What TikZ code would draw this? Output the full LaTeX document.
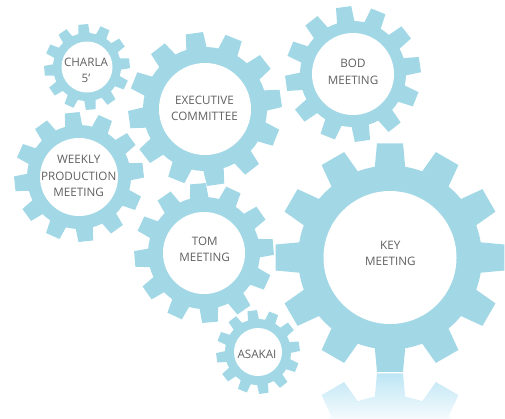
\documentclass[tikz,border=0pt]{standalone}
\usepackage{fontspec}
\setmainfont{Open Sans}
\definecolor{gearc}{RGB}{162,216,230}
\definecolor{txtc}{RGB}{96,96,96}
\definecolor{reflA}{RGB}{190,230,245}
\definecolor{reflB}{RGB}{244,250,253}
\newcommand{\mygear}[7]{% cx cy tip root inner offset name
  \fill[gearc,shift={(#1,#2)}] ({#6-9.5}:#4)
    \foreach \k in {0,...,11}{
      -- ({#6+30*\k-6.5}:#3) -- ({#6+30*\k+6.5}:#3) -- ({#6+30*\k+9.5}:#4)
      arc[start angle={#6+30*\k+9.5}, end angle={#6+30*\k+20.5}, radius=#4]
    } -- cycle;
  \coordinate (#7) at (#1,#2);
}
\newcommand{\myhole}[3]{\fill[white] (#1,#2) circle[radius=#3];}
\begin{document}
\begin{tikzpicture}[x=1bp,y=-1bp,
  lbl/.style={font=\fontsize{11.7}{16.7}\selectfont, text=txtc, align=center, inner sep=0pt}]
\useasboundingbox (0,0) rectangle (505,418);
% reflection
\begin{scope}
  \clip (0,373.5) rectangle (505,418);
  \begin{scope}
    \clip[shift={(390,487.5)}] ({-9.5}:92)
      \foreach \k in {0,...,11}{
        -- ({30*\k-6.5}:115) -- ({30*\k+6.5}:115) -- ({30*\k+9.5}:92)
        arc[start angle={30*\k+9.5}, end angle={30*\k+20.5}, radius=92]
      } -- cycle;
    \shade[top color=reflA, bottom color=reflB] (260,373.5) rectangle (520,418);
  \end{scope}
\end{scope}
% gears
\mygear{87}{67}{43}{34}{25.5}{-5}{gcharla}
\mygear{205}{109}{77}{62}{46}{-8}{gexec}
\mygear{353}{74}{68}{53}{41}{-8}{gbod}
\mygear{79}{177}{65}{52}{39}{-6}{gweekly}
\mygear{204}{253}{70}{56}{41}{-5}{gtom}
\mygear{390}{257.5}{115}{92}{66.5}{0}{gkey}
\mygear{258}{352}{42}{33}{24}{-8}{gasakai}
\myhole{87}{67}{25.5}
\myhole{205}{109}{46}
\myhole{353}{74}{41}
\myhole{79}{177}{39}
\myhole{204}{253}{41}
\myhole{390}{257.5}{66.5}
\myhole{258}{352}{24}
% labels
\node[lbl] (tcharla) at (86,70.2) {CHARLA\\5’};
\node[lbl] (texec) at (204.5,108.5) {EXECUTIVE\\COMMITTEE};
\node[lbl] (tbod) at (353,71.7) {BOD\\MEETING};
\node[lbl] (tweekly) at (78.7,176) {WEEKLY\\PRODUCTION\\MEETING};
\node[lbl] (ttom) at (204.7,249.2) {TOM\\MEETING};
\node[lbl] (tkey) at (390.3,253.3) {KEY\\MEETING};
\node[lbl] (tasakai) at (257,354.5) {ASAKAI};
\end{tikzpicture}
\end{document}
